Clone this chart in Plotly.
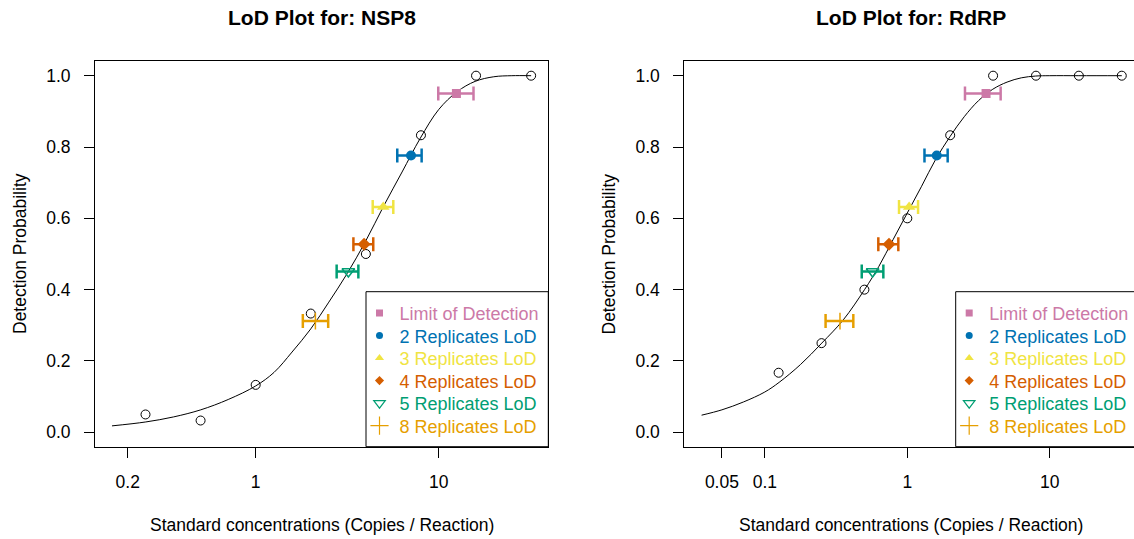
import plotly.graph_objects as go

# ---------------- data ----------------
lod_names = ["Limit of Detection", "2 Replicates LoD", "3 Replicates LoD",
             "4 Replicates LoD", "5 Replicates LoD", "8 Replicates LoD"]
lod_prob = [0.95, 0.776, 0.632, 0.527, 0.451, 0.312]

# NSP8
nsp8_conc = [0.25, 0.5, 1, 2, 4, 8, 16, 32]
nsp8_prob = [0.05, 0.033, 0.133, 0.333, 0.5, 0.833, 1.0, 1.0]
nsp8_fit_conc = [0.164, 0.251, 0.355, 0.501, 0.708, 1.0, 1.26, 1.58, 2.0, 2.51, 3.16,
                 3.98, 5.01, 6.31, 7.94, 10.0, 12.6, 15.8, 20.0, 25.1, 32.0]
nsp8_fit_prob = [0.018, 0.029, 0.043, 0.063, 0.092, 0.13, 0.168, 0.225, 0.29, 0.365, 0.445,
                 0.535, 0.635, 0.73, 0.825, 0.905, 0.955, 0.984, 0.997, 1.0, 1.0]
nsp8_lod = [12.5, 7.06, 4.98, 3.91, 3.21, 2.12]
nsp8_lod_low = [9.95, 5.94, 4.36, 3.42, 2.77, 1.81]
nsp8_lod_high = [15.5, 8.07, 5.65, 4.39, 3.64, 2.49]

# RdRP
rdrp_conc = [0.125, 0.25, 0.5, 1, 2, 4, 8, 16, 32]
rdrp_prob = [0.167, 0.25, 0.4, 0.6, 0.833, 1.0, 1.0, 1.0, 1.0]
rdrp_fit_conc = [0.036, 0.05, 0.0708, 0.1, 0.126, 0.178, 0.251, 0.355, 0.501, 0.631, 0.794,
                 1.0, 1.26, 1.58, 2.0, 2.51, 3.16, 3.98, 5.01, 6.31, 7.94, 10.0, 16.0, 32.0]
rdrp_fit_prob = [0.048, 0.063, 0.085, 0.113, 0.14, 0.19, 0.25, 0.315, 0.40, 0.465, 0.54,
                 0.615, 0.69, 0.765, 0.83, 0.885, 0.93, 0.962, 0.982, 0.994, 0.999, 1.0, 1.0, 1.0]
rdrp_lod = [3.57, 1.61, 1.03, 0.744, 0.571, 0.337]
rdrp_lod_low = [2.54, 1.32, 0.875, 0.626, 0.479, 0.267]
rdrp_lod_high = [4.52, 1.92, 1.19, 0.865, 0.679, 0.418]

x_ticks_nsp8 = [0.2, 1, 10]
x_ticks_rdrp = [0.05, 0.1, 1, 10]
y_ticks = [0.0, 0.2, 0.4, 0.6, 0.8, 1.0]

# ---------------- style ----------------
FONT = "Liberation Sans, Arial, sans-serif"
FW, FH = 1134, 539
colors = ["#CC79A7", "#0072B2", "#F0E442", "#D55E00", "#009E73", "#E69F00"]
symbols = ["square", "circle", "triangle-up", "diamond", "triangle-down-open", "cross-thin-open"]
plot_sizes = [9, 10, 11, 10, 11, 12]
leg_sizes = [7, 7, 8, 7, 10, 13]


def px_x(p):
    return p / FW


def px_y(p):
    return 1 - p / FH


fig = go.Figure()
legend_layouts = {}
row_y = [313.3 + 22.54 * i for i in range(6)]


def add_panel(xa, ya, panel, conc, prob, fit_c, fit_p, lod, lo, hi, leg_left):
    fig.add_trace(go.Scatter(x=fit_c, y=fit_p, mode="lines", line=dict(color="black", width=1),
                             line_shape="spline", xaxis=xa, yaxis=ya, showlegend=False,
                             hoverinfo="skip"))
    fig.add_trace(go.Scatter(x=conc, y=prob, mode="markers", xaxis=xa, yaxis=ya,
                             marker=dict(symbol="circle-open", size=9, color="black",
                                         line=dict(width=1, color="black")),
                             showlegend=False))
    for i in range(len(lod)):
        open_sym = symbols[i].endswith("open")
        fig.add_trace(go.Scatter(
            x=[lod[i]], y=[lod_prob[i]], mode="markers", xaxis=xa, yaxis=ya,
            marker=dict(symbol=symbols[i], size=plot_sizes[i], color=colors[i],
                        line=dict(width=1.5 if open_sym else 0, color=colors[i])),
            error_x=dict(type="data", symmetric=False, array=[hi[i] - lod[i]],
                         arrayminus=[lod[i] - lo[i]], color=colors[i], thickness=2.5, width=7),
            showlegend=False))
    for i in range(len(lod)):
        open_sym = symbols[i].endswith("open")
        leg = "legend%d" % (3 + panel * 6 + i)
        fig.add_trace(go.Scatter(
            x=[None], y=[None], mode="markers", xaxis=xa, yaxis=ya, legend=leg,
            name='<span style="color:%s">%s</span>' % (colors[i], lod_names[i]),
            marker=dict(symbol=symbols[i], size=leg_sizes[i], color=colors[i],
                        line=dict(width=1.2 if open_sym else 0, color=colors[i])),
            showlegend=True))
        legend_layouts[leg] = dict(x=px_x(leg_left - 6.5), y=px_y(row_y[i]), xanchor="left",
                                   yanchor="middle", bgcolor="rgba(0,0,0,0)", borderwidth=0,
                                   font=dict(family=FONT, size=18), itemwidth=30)


add_panel("x", "y", 0, nsp8_conc, nsp8_prob, nsp8_fit_conc, nsp8_fit_prob,
          nsp8_lod, nsp8_lod_low, nsp8_lod_high, 366)
add_panel("x2", "y2", 1, rdrp_conc, rdrp_prob, rdrp_fit_conc, rdrp_fit_prob,
          rdrp_lod, rdrp_lod_low, rdrp_lod_high, 955.7)

tickfont = dict(family=FONT, size=17.5, color="black")
ydom = [px_y(446.7), px_y(61)]
common_x = dict(type="log", ticks="outside", ticklen=10, tickwidth=1, tickcolor="black",
                showline=True, linecolor="black", linewidth=1, mirror=True, showgrid=False,
                zeroline=False, tickfont=tickfont, ticklabelstandoff=9)
common_y = dict(range=[-0.0404, 1.0412], domain=ydom, tickvals=y_ticks,
                ticktext=["%.1f" % v for v in y_ticks], ticks="outside", ticklen=10, tickwidth=1,
                tickcolor="black", showline=True, linecolor="black", linewidth=1,
                showgrid=False, zeroline=False, tickfont=tickfont, ticklabelstandoff=10)

fig.update_layout(
    width=FW, height=FH, margin=dict(l=0, r=0, t=0, b=0, autoexpand=False),
    paper_bgcolor="white", plot_bgcolor="white",
    xaxis=dict(common_x, range=[-0.878, 1.599], domain=[px_x(95), px_x(548.3)], anchor="y",
               tickvals=x_ticks_nsp8, ticktext=[str(v) for v in x_ticks_nsp8]),
    yaxis=dict(common_y, anchor="x", mirror=True),
    xaxis2=dict(common_x, range=[-1.565, 1.591], domain=[px_x(684.3), 1.0], anchor="y2",
                tickvals=x_ticks_rdrp, ticktext=[str(v) for v in x_ticks_rdrp]),
    yaxis2=dict(common_y, anchor="x2", mirror=False),
    showlegend=True,
)
fig.update_layout(**legend_layouts)

shapes = []
for left, right in [(366, 548.3), (955.7, 1140)]:
    shapes.append(dict(type="rect", xref="paper", yref="paper", layer="above",
                       x0=px_x(left), x1=px_x(right), y0=px_y(446.7), y1=px_y(291.7),
                       line=dict(color="black", width=1), fillcolor="rgba(0,0,0,0)"))
fig.update_layout(shapes=shapes)

annos = []
for cx, title in [((95 + 548.3) / 2, "LoD Plot for: NSP8"), ((684.3 + 1137.6) / 2, "LoD Plot for: RdRP")]:
    annos.append(dict(x=px_x(cx), y=px_y(17.5), xref="paper", yref="paper", text="<b>%s</b>" % title,
                      showarrow=False, xanchor="center", yanchor="middle",
                      font=dict(family=FONT, size=21, color="black")))
    annos.append(dict(x=px_x(cx), y=px_y(525), xref="paper", yref="paper",
                      text="Standard concentrations (Copies / Reaction)",
                      showarrow=False, xanchor="center", yanchor="middle",
                      font=dict(family=FONT, size=17.5, color="black")))
for yx in [20, 608.5]:
    annos.append(dict(x=px_x(yx), y=px_y(254), xref="paper", yref="paper",
                      text="Detection Probability", textangle=-90,
                      showarrow=False, xanchor="center", yanchor="middle",
                      font=dict(family=FONT, size=17.5, color="black")))
fig.update_layout(annotations=annos)

fig.write_html("out.html", config={"displayModeBar": False},
               post_script="document.body.style.margin='0';"
                           "document.body.style.overflow='hidden';")
